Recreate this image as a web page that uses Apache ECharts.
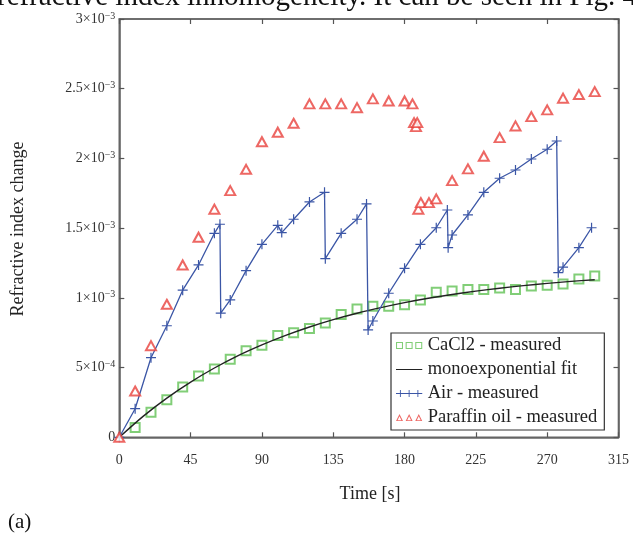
<!DOCTYPE html>
<html><head><meta charset="utf-8">
<script src="https://cdn.jsdelivr.net/npm/echarts@6/dist/echarts.min.js"></script>
<style>html,body{margin:0;padding:0;background:#fff}#c{width:633px;height:537px}</style>
</head><body><div id="c"></div>
<script>
// values in units of 1e-3
const caTimes = [10,20,30,40,50,60,70,80,90,100,110,120,130,140,150,160,170,180,190,200,210,220,230,240,250,260,270,280,290,300];
const caValues = [0.07,0.18,0.27,0.36,0.44,0.49,0.56,0.62,0.66,0.73,0.75,0.78,0.82,0.88,0.92,0.94,0.94,0.95,0.985,1.04,1.05,1.06,1.06,1.07,1.06,1.085,1.09,1.10,1.135,1.157];
const fitTimes = [0,15,30,45,60,75,90,105,120,135,150,165,180,195,210,225,240,255,270,285,300];
const fitValues = [0,0.15,0.281,0.396,0.497,0.586,0.663,0.731,0.791,0.844,0.89,0.93,0.966,0.997,1.024,1.048,1.069,1.088,1.104,1.118,1.13];
const airTimes = [0,10,20,30,40,50,60,63.5,64,70,80,90,100,102.5,110,120,129.5,130,140,150,156,157,160,170,180,190,200,207,207.5,210,220,230,240,250,260,270,276,277,280,290,298];
const airValues = [0,0.205,0.571,0.80,1.055,1.236,1.463,1.528,0.89,0.985,1.195,1.384,1.52,1.468,1.564,1.688,1.757,1.281,1.463,1.564,1.674,0.77,0.834,1.033,1.212,1.384,1.503,1.63,1.36,1.451,1.595,1.757,1.858,1.917,1.996,2.066,2.125,1.181,1.22,1.36,1.503];
const oilTimes = [0,10,20,30,40,50,60,70,80,90,100,110,120,130,140,150,160,170,180,185,186,187.2,188,188.7,190.3,195.4,200,210,220,230,240,250,260,270,280,290,300];
const oilValues = [0,0.332,0.657,0.954,1.236,1.435,1.636,1.769,1.922,2.12,2.188,2.252,2.391,2.391,2.391,2.364,2.427,2.412,2.412,2.391,2.257,2.228,2.257,1.636,1.683,1.683,1.71,1.841,1.925,2.016,2.149,2.233,2.3,2.348,2.432,2.458,2.479];
const xTickLabels = ['0','45','90','135','180','225','270','315'];
const yLabelBase = ['0','5×10','1×10','1.5×10','2×10','2.5×10','3×10'];
const yLabelExp = ['','−4','−3','−3','−3','−3','−3'];
const seriesNames = ['CaCl2 - measured','monoexponential fit','Air - measured','Paraffin oil - measured'];

const zip = (a,b) => a.map((t,i)=>[t,b[i]]);
const GREEN='#62c255', BLUE='#3b56a6', RED='#e8413c', BLACK='#222';
const FONT='Liberation Serif';
const plusPath='path://M4.4,0H5.6V4.4H10V5.6H5.6V10H4.4V5.6H0V4.4H4.4Z';

const chart = echarts.init(document.getElementById('c'), null, {renderer:'canvas'});
const axisLineStyle = {color:'#666', width:1.6};
const option = {
  animation:false,
  backgroundColor:'#fff',
  grid:{left:119.3, right:14.5, top:19, bottom:99.7, show:true, borderColor:'#666', borderWidth:1.6, backgroundColor:'transparent'},
  xAxis:[
    {type:'value', min:0, max:315, interval:45, position:'bottom',
     axisLine:{show:true, onZero:false, lineStyle:axisLineStyle},
     axisTick:{show:true, inside:true, length:5, lineStyle:{color:'#555', width:1.2}},
     splitLine:{show:false},
     axisLabel:{margin:16, fontFamily:FONT, fontSize:14, color:'#333',
       formatter:(v)=>xTickLabels[Math.round(v/45)]}},
    {type:'value', min:0, max:315, interval:45, position:'top',
     axisLine:{show:true, onZero:false, lineStyle:axisLineStyle},
     axisTick:{show:true, inside:true, length:5, lineStyle:{color:'#555', width:1.2}},
     splitLine:{show:false}, axisLabel:{show:false}}
  ],
  yAxis:[
    {type:'value', min:0, max:3, interval:0.5, position:'left',
     axisLine:{show:true, onZero:false, lineStyle:axisLineStyle},
     axisTick:{show:true, inside:true, length:5, lineStyle:{color:'#555', width:1.2}},
     splitLine:{show:false},
     axisLabel:{margin:4, fontFamily:FONT, fontSize:14, color:'#333',
       formatter:(v)=>{const i=Math.round(v/0.5); return yLabelExp[i] ? '{b|'+yLabelBase[i]+'}{s|'+yLabelExp[i]+'}' : '{b|'+yLabelBase[i]+'}';},
       rich:{b:{fontFamily:FONT, fontSize:14, color:'#333', lineHeight:16},
             s:{fontFamily:FONT, fontSize:10, color:'#333', verticalAlign:'top', padding:[0,0,10,0], lineHeight:10}}}},
    {type:'value', min:0, max:3, interval:0.5, position:'right',
     axisLine:{show:true, onZero:false, lineStyle:axisLineStyle},
     axisTick:{show:true, inside:true, length:5, lineStyle:{color:'#555', width:1.2}},
     splitLine:{show:false}, axisLabel:{show:false}}
  ],
  legend:{
    orient:'vertical', left:391, top:333, width:218,
    backgroundColor:'#fff', borderColor:'#333', borderWidth:1.2, padding:[3,7,3,5],
    itemWidth:27, itemHeight:7, itemGap:5,
    textStyle:{fontFamily:FONT, fontSize:18.5, color:'#222', lineHeight:16.5},
    data:[
      {name:seriesNames[0], icon:'path://M0,0H8V8H0Z M1.2,1.2V6.8H6.8V1.2Z M11,0H19V8H11Z M12.2,1.2V6.8H17.8V1.2Z M22,0H30V8H22Z M23.2,1.2V6.8H28.8V1.2Z', itemStyle:{color:GREEN, borderWidth:0}},
      {name:seriesNames[1], icon:'path://M0,3.5H30V4.5H0Z M0,0H0.01V8H0Z', itemStyle:{color:BLACK, borderWidth:0}},
      {name:seriesNames[2], icon:'path://M0,3.5H30V4.5H0Z M4.5,0H5.5V8H4.5Z M14.5,0H15.5V8H14.5Z M24.5,0H25.5V8H24.5Z', itemStyle:{color:BLUE, borderWidth:0}},
      {name:seriesNames[3], icon:'path://M0,8L4,0L8,8Z M1.8,7H6.2L4,2.6Z M11,8L15,0L19,8Z M12.8,7H17.2L15,2.6Z M22,8L26,0L30,8Z M23.8,7H28.2L26,2.6Z', itemStyle:{color:RED, borderWidth:0}}
    ]
  },
  series:[
    {name:seriesNames[0], type:'scatter', data:zip(caTimes,caValues), symbol:'emptyRect', symbolSize:9,
     itemStyle:{color:GREEN, borderColor:GREEN, borderWidth:1.3}, z:3},
    {name:seriesNames[1], type:'line', data:zip(fitTimes,fitValues), showSymbol:false, smooth:0.3,
     lineStyle:{color:BLACK, width:1.4}, itemStyle:{color:BLACK}, z:4},
    {name:seriesNames[2], type:'line', data:zip(airTimes,airValues), symbol:plusPath, symbolSize:10, showSymbol:true,
     lineStyle:{color:BLUE, width:1.3}, itemStyle:{color:BLUE, borderWidth:0}, z:5},
    {name:seriesNames[3], type:'scatter', data:zip(oilTimes,oilValues), symbol:'emptyTriangle', symbolSize:[10,9],
     itemStyle:{color:RED, borderColor:RED, borderWidth:1.3}, z:6}
  ],
  graphic:[
    {type:'text', left:-3, top:-17, style:{text:'refractive index inhomogeneity. It can be seen in Fig. 4a', fontFamily:FONT, fontSize:29, fill:'#111'}},
    {type:'text', x:18, y:229, rotation:Math.PI/2, style:{text:'Refractive index change', fontFamily:FONT, fontSize:18, fill:'#222', align:'center', verticalAlign:'middle'}},
    {type:'text', x:370, y:494, style:{text:'Time [s]', fontFamily:FONT, fontSize:18, fill:'#222', align:'center', verticalAlign:'middle'}},
    {type:'text', x:8, y:522, style:{text:'(a)', fontFamily:FONT, fontSize:21, fill:'#111', align:'left', verticalAlign:'middle'}}
  ]
};
chart.setOption(option);
</script></body></html>
